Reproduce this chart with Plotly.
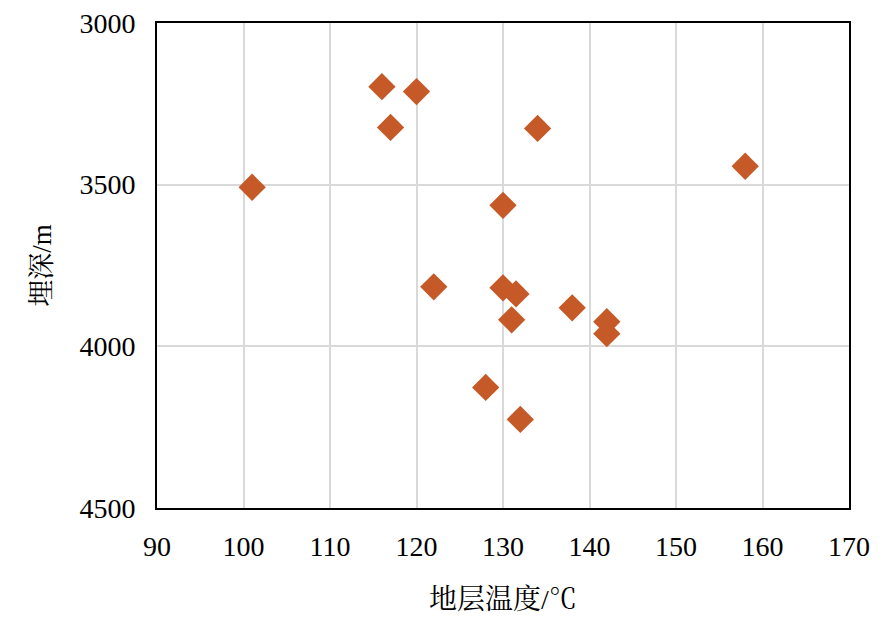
import plotly.graph_objects as go

temperature = [101, 116, 120, 117, 134, 158, 130, 122, 130, 131.5, 138, 131, 142, 142, 128, 132]
depth = [3508, 3197, 3212, 3323, 3326, 3443, 3564, 3816, 3819, 3838, 3881, 3918, 3924, 3961, 4127, 4226]

x_ticks = [90, 100, 110, 120, 130, 140, 150, 160, 170]
y_ticks = [3000, 3500, 4000, 4500]

font_family = "Liberation Serif, Noto Serif CJK SC, Noto Sans CJK SC, serif"

fig = go.Figure()
fig.add_trace(go.Scatter(
    x=temperature, y=depth, mode="markers",
    marker=dict(symbol="diamond", size=21, color="#C55A28", line=dict(width=0)),
    showlegend=False,
))

# page body has an 8px margin, so the figure is sized/offset to compensate
fig.update_layout(
    width=884, height=626,
    margin=dict(l=149, r=43, t=15, b=126, autoexpand=False),
    paper_bgcolor="white", plot_bgcolor="white",
    font=dict(family=font_family, size=28, color="black"),
)
fig.update_xaxes(
    range=[90, 170], tickvals=x_ticks, ticktext=[str(v) for v in x_ticks],
    showgrid=True, gridcolor="#d9d9d9", gridwidth=2,
    showline=True, linecolor="black", linewidth=2, mirror=True,
    ticks="", ticklabelstandoff=12, zeroline=False, automargin=False,
    ticklabeloverflow="allow",
    title=dict(text="地层温度/℃", font=dict(size=28), standoff=29),
)
fig.update_yaxes(
    range=[4500, 3000], tickvals=y_ticks, ticktext=[str(v) for v in y_ticks],
    showgrid=True, gridcolor="#d9d9d9", gridwidth=2,
    showline=True, linecolor="black", linewidth=2, mirror=True,
    ticks="", ticklabelstandoff=14, zeroline=False, automargin=False,
    ticklabeloverflow="allow",
    title=dict(text="埋深/m", font=dict(size=27), standoff=20),
)

fig.write_html("out.html")
